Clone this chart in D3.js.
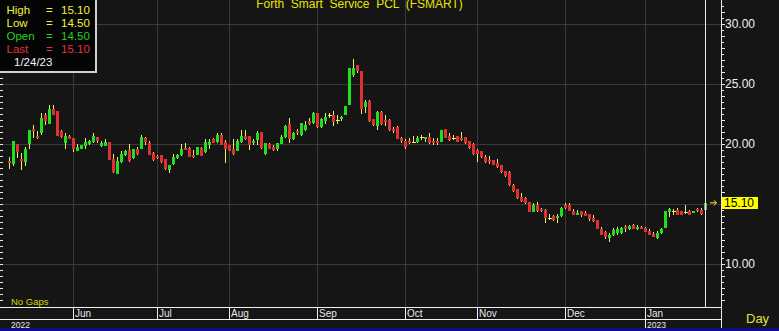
<!DOCTYPE html>
<html><head><meta charset="utf-8">
<script src="https://cdn.jsdelivr.net/npm/d3@7"></script>
<style>html,body{margin:0;padding:0;background:#151515;overflow:hidden}svg{display:block}</style>
</head><body>
<script>
// ---- data (bar index 0 = first visible session, ~mid May 2022; last = 1/24/23) ----
const opens = [18.61,18.33,20.0,18.78,18.5,20.0,21.28,20.67,20.89,22.39,21.67,22.89,22.78,21.11,20.11,20.67,20.5,19.44,19.61,19.83,
20.0,20.17,20.56,19.83,19.83,20.17,18.78,17.5,18.5,19.06,19.5,18.83,19.61,19.56,20.5,20.11,19.28,19.0,19.06,18.72,
17.83,18.33,18.83,19.06,19.67,19.67,19.11,19.11,19.67,19.33,19.94,20.39,20.17,20.72,20.17,19.89,19.56,19.44,20.17,20.67,
20.67,20.11,20.33,21.0,19.17,20.0,19.78,19.56,20.0,20.56,21.67,20.44,21.11,20.72,21.17,21.94,21.72,22.61,21.39,21.94,
22.39,22.44,22.0,22.06,22.44,23.22,25.72,26.61,26.06,23.06,23.61,22.06,21.5,22.67,22.0,22.0,21.28,21.44,20.5,20.28,
20.22,20.17,20.17,20.56,20.39,20.61,20.28,20.28,20.17,21.22,20.67,20.5,20.67,20.5,20.56,20.28,20.0,19.5,19.39,18.94,
18.67,18.67,18.44,18.28,17.72,17.67,16.56,16.22,15.61,15.5,15.17,14.33,14.89,14.61,14.5,13.83,14.0,13.83,14.0,14.89,
14.94,14.44,14.11,14.39,14.22,14.17,13.83,13.67,12.94,12.67,12.17,12.44,12.56,12.56,13.06,12.89,13.28,12.94,13.06,13.0,
12.72,12.5,12.17,12.56,13.0,14.33,14.39,14.5,14.44,14.33,14.44,14.22,14.56,14.5,14.5];
const highs = [18.94,20.25,20.0,19.28,19.78,21.17,21.58,21.06,22.56,22.61,23.22,23.28,22.78,21.2,20.94,20.72,20.5,20.0,19.94,20.5,
20.33,20.94,20.61,20.22,20.44,20.17,19.17,18.89,19.39,19.5,20.0,19.61,19.78,20.78,20.61,20.28,19.33,19.06,19.11,18.78,
18.0,19.17,19.17,20.0,20.11,19.78,19.5,19.78,19.72,20.39,20.39,20.5,20.94,20.94,20.33,19.94,20.39,20.44,21.17,21.17,
20.67,20.44,21.06,21.0,20.11,20.06,19.89,20.06,20.72,21.56,22.17,21.0,21.28,21.78,21.94,22.17,22.67,22.61,22.17,22.56,
22.61,22.72,22.39,22.33,23.17,26.33,27.06,26.61,26.06,23.67,23.67,22.11,22.72,22.72,22.39,22.11,21.44,21.5,20.56,20.39,
20.5,20.67,20.67,20.78,20.61,20.89,20.5,20.5,21.17,21.22,20.89,20.78,20.67,21.0,20.56,20.28,20.06,19.56,19.44,19.11,
19.0,18.67,18.78,18.28,17.78,17.72,16.67,16.28,15.94,15.56,15.17,15.11,15.17,14.67,14.56,14.17,14.06,14.17,14.72,15.06,
15.06,14.61,14.5,14.44,14.44,14.17,14.06,13.67,13.11,12.78,12.61,13.0,13.11,13.11,13.28,13.22,13.33,13.22,13.17,13.11,
12.89,12.67,12.72,13.0,14.39,14.67,14.61,14.67,14.44,14.94,14.5,14.44,14.67,14.67,15.1];
const lows = [17.94,18.17,18.83,17.83,18.17,19.61,20.47,20.44,20.72,21.61,21.67,22.44,20.67,20.5,19.61,20.44,19.33,19.39,19.56,19.61,
19.94,20.06,20.06,19.72,19.83,18.67,17.56,17.5,18.44,19.0,18.5,18.78,19.11,19.56,19.89,19.06,18.61,18.78,18.44,17.83,
17.56,18.22,18.78,19.0,19.5,18.94,18.83,19.06,19.0,19.22,19.56,20.06,20.06,19.94,18.39,19.39,19.06,19.44,20.06,20.33,
19.5,19.94,19.94,19.61,19.11,19.56,19.44,19.44,20.0,20.5,20.11,20.33,20.72,20.67,21.06,21.61,21.67,21.33,21.33,21.67,
22.17,21.5,21.67,21.94,22.39,23.22,25.61,25.94,22.5,22.56,21.83,21.5,21.17,21.61,21.5,21.06,20.94,20.39,20.11,19.61,
20.0,20.06,20.11,20.33,20.17,20.0,19.94,19.94,20.17,20.5,20.28,20.33,20.17,20.28,20.0,19.61,19.11,18.5,18.83,18.44,
18.33,18.22,18.0,17.61,17.28,16.5,16.0,15.44,15.17,15.0,14.33,14.33,14.33,14.33,13.44,13.67,13.61,13.44,13.89,14.61,
14.39,14.06,14.11,13.94,14.0,13.56,13.5,12.94,12.39,12.11,11.83,12.33,12.44,12.5,12.67,12.83,12.94,12.83,12.89,12.67,
12.39,12.22,12.11,12.5,13.0,13.94,14.06,14.06,14.06,14.17,14.06,14.22,14.33,14.11,14.5];
const closes = [18.39,20.25,19.33,18.56,19.56,21.17,21.11,20.5,22.17,21.89,22.94,22.44,20.67,20.56,20.67,20.44,19.61,19.72,19.89,20.17,
20.28,20.67,20.28,20.06,20.17,18.67,17.67,18.56,19.17,19.44,18.56,19.56,19.17,20.61,20.17,19.06,18.67,18.83,18.5,17.89,
18.22,18.94,19.06,19.61,19.5,18.94,18.94,19.72,19.0,20.17,20.17,20.11,20.78,19.94,19.56,19.44,19.17,20.28,20.67,20.39,
19.94,20.28,20.94,19.67,20.06,19.56,19.5,20.06,20.61,21.5,20.39,20.94,20.89,21.72,21.61,21.67,22.61,21.39,22.11,22.28,
22.39,21.83,22.0,22.28,23.17,26.33,26.33,26.06,22.94,23.5,21.94,21.56,22.67,21.67,21.83,21.17,21.11,20.44,20.22,19.72,
20.06,20.17,20.5,20.56,20.56,20.06,20.11,20.11,21.17,20.5,20.33,20.5,20.17,20.33,20.11,19.67,19.17,19.17,18.89,18.5,
18.5,18.28,18.11,17.67,17.33,16.61,16.11,15.5,15.22,15.06,14.33,14.94,14.39,14.39,13.83,13.83,13.67,14.0,14.67,14.67,
14.39,14.11,14.28,14.06,14.0,13.72,13.56,12.94,12.44,12.22,12.44,12.83,12.94,13.0,12.89,13.17,12.94,13.11,12.89,12.67,
12.39,12.22,12.61,12.94,14.39,14.61,14.39,14.11,14.11,14.33,14.11,14.44,14.39,14.17,15.1];
const monthLabels = ["Jun","Jul","Aug","Sep","Oct","Nov","Dec","Jan"];
const monthStartIdx = [16,37,55,77,99,117,139,159];
const yearLabels = ["2022","2023"];
const yearStartIdx = [0,159];
const priceTickLabels = [10,15,20,25,30];
const legendNames = ["High","Low","Open","Last"];
const legendValues = ["15.10","14.50","14.50","15.10"];
const lastDate = "1/24/23";
const title = "Forth  Smart  Service  PCL  (FSMART)";

// ---- drawing ----
const W = 779, H = 331;
const plotRight = 705, axisX = 721, dateTop = 307, yearTop = 319;
const FONT = "'Liberation Sans', Arial, sans-serif";
const svg = d3.select("body").append("svg").attr("width", W).attr("height", H)
  .style("font-family", FONT);
svg.append("rect").attr("width", W).attr("height", H).attr("fill", "#151515");

const n = opens.length;
const x = d3.scaleLinear().domain([0, n - 1]).range([9, plotRight]);
const y = d3.scaleLinear().domain([10, 30]).range([264, 24]);

const g = svg.append("g").attr("shape-rendering", "crispEdges");
// grid
g.selectAll(".hg").data(priceTickLabels).join("line")
  .attr("x1", 0).attr("x2", axisX).attr("y1", d => Math.round(y(d)) + 0.5).attr("y2", d => Math.round(y(d)) + 0.5)
  .attr("stroke", "#3a3a3a");
g.selectAll(".vg").data(monthStartIdx).join("line")
  .attr("x1", d => x(d) + 0.5).attr("x2", d => x(d) + 0.5).attr("y1", 0).attr("y2", dateTop)
  .attr("stroke", "#3a3a3a");

// candles
const wickCol = "#ecec6a", upCol = "#1fe01f", dnCol = "#e0302f";
const idx = d3.range(n);
g.selectAll(".wick").data(idx).join("line")
  .attr("x1", i => x(i) + 0.5).attr("x2", i => x(i) + 0.5)
  .attr("y1", i => y(highs[i])).attr("y2", i => y(lows[i]))
  .attr("stroke", wickCol);
g.selectAll(".body").data(idx.filter(i => opens[i] !== closes[i])).join("rect")
  .attr("x", i => x(i) - 1).attr("width", 3)
  .attr("y", i => y(Math.max(opens[i], closes[i])))
  .attr("height", i => Math.max(1, Math.abs(y(opens[i]) - y(closes[i]))))
  .attr("fill", i => i === n - 1 ? "#5faf5f" : (closes[i] > opens[i] ? upCol : dnCol));
g.selectAll(".doji").data(idx.filter(i => opens[i] === closes[i])).join("line")
  .attr("x1", i => x(i) - 1.5).attr("x2", i => x(i) + 2.5)
  .attr("y1", i => Math.round(y(opens[i])) + 0.5).attr("y2", i => Math.round(y(opens[i])) + 0.5)
  .attr("stroke", wickCol);

// plot right white line, axis line
g.append("line").attr("x1", plotRight + 0.5).attr("x2", plotRight + 0.5).attr("y1", 0).attr("y2", dateTop).attr("stroke", "#e8e8e8");
g.append("line").attr("x1", axisX + 0.5).attr("x2", axisX + 0.5).attr("y1", 0).attr("y2", H).attr("stroke", "#e8e8e8");

// price axis ticks (right) and edge ticks (left)
const minor = d3.range(6.5, 32.01, 0.5).filter(v => y(v) >= 0 && y(v) <= dateTop - 2);
g.selectAll(".rt").data(minor).join("line")
  .attr("x1", axisX).attr("x2", v => axisX + (Number.isInteger(v) ? 4 : 3))
  .attr("y1", v => Math.round(y(v)) + 0.5).attr("y2", v => Math.round(y(v)) + 0.5).attr("stroke", "#e8e8e8");
g.selectAll(".lt").data(minor).join("line")
  .attr("x1", 0).attr("x2", 3)
  .attr("y1", v => Math.round(y(v)) + 0.5).attr("y2", v => Math.round(y(v)) + 0.5).attr("stroke", "#e8e8e8");
svg.selectAll(".yl").data(priceTickLabels).join("text")
  .attr("x", axisX + 4).attr("y", d => y(d)).attr("dy", "0.36em")
  .attr("fill", "#f0f0f0").attr("font-size", 12).text(d => d.toFixed(2));

// last price marker
const lastY = y(closes[n - 1]);
svg.append("rect").attr("x", axisX + 1).attr("y", Math.round(lastY) - 6).attr("width", 36).attr("height", 12).attr("fill", "#ffff00");
svg.append("text").attr("x", axisX + 3).attr("y", lastY).attr("dy", "0.36em").attr("font-size", 12).attr("fill", "#000").text(closes[n - 1].toFixed(2));
svg.append("path").attr("d", `M${plotRight + 5},${lastY}h6M${plotRight + 9},${lastY - 2.5}l2.5,2.5l-2.5,2.5`)
  .attr("stroke", "#ffff30").attr("fill", "none");

// date strip
g.append("line").attr("x1", 0).attr("x2", axisX).attr("y1", dateTop + 0.5).attr("y2", dateTop + 0.5).attr("stroke", "#f0f0f0");
g.append("line").attr("x1", 0).attr("x2", axisX).attr("y1", yearTop + 0.5).attr("y2", yearTop + 0.5).attr("stroke", "#f0f0f0");
g.selectAll(".ms").data(monthStartIdx).join("line")
  .attr("x1", d => x(d) + 0.5).attr("x2", d => x(d) + 0.5).attr("y1", dateTop)
  .attr("y2", (d, i) => monthLabels[i] === "Jan" ? H - 3 : yearTop).attr("stroke", "#f0f0f0");
svg.selectAll(".ml").data(monthStartIdx).join("text")
  .attr("x", d => x(d) + 2).attr("y", 317).attr("fill", "#e8e8e8").attr("font-size", 10)
  .text((d, i) => monthLabels[i]);
svg.selectAll(".yrl").data(yearStartIdx).join("text")
  .attr("x", (d, i) => i === 0 ? 11 : x(d) + 2).attr("y", 327.5).attr("fill", "#e8e8e8").attr("font-size", 8.5)
  .text((d, i) => yearLabels[i]);
svg.append("rect").attr("x", 0).attr("y", H - 3).attr("width", W).attr("height", 3).attr("fill", "#0c0c86");

svg.append("text").attr("x", 11).attr("y", 305).attr("fill", "#d6d600").attr("font-size", 9.5).text("No  Gaps");
svg.append("text").attr("x", 746).attr("y", 323).attr("fill", "#e0e040").attr("font-size", 13).text("Day");

// title
svg.append("text").attr("x", 359.5).attr("y", 7.5).attr("text-anchor", "middle").attr("fill", "#e6e600")
  .attr("font-size", 12).style("white-space", "pre").text(title);

// legend box
svg.append("rect").attr("x", 0).attr("y", 0).attr("width", 97).attr("height", 73).attr("fill", "#d0d0d0");
svg.append("rect").attr("x", 0).attr("y", 0).attr("width", 95).attr("height", 71).attr("fill", "#050505");
const legCols = ["#f2f23c", "#f2f23c", "#22d022", "#e03434"];
legendNames.forEach((nm, i) => {
  const yy = 13.5 + i * 13;
  svg.append("text").attr("x", 6.5).attr("y", yy).attr("fill", legCols[i]).attr("font-size", 11.5).text(nm);
  svg.append("text").attr("x", 46).attr("y", yy).attr("fill", legCols[i]).attr("font-size", 11.5).text("=");
  svg.append("text").attr("x", 61).attr("y", yy).attr("fill", legCols[i]).attr("font-size", 11.5).text(legendValues[i]);
});
svg.append("text").attr("x", 14).attr("y", 65.5).attr("fill", "#f4f4f4").attr("font-size", 11.5).text(lastDate);
</script>
</body></html>
